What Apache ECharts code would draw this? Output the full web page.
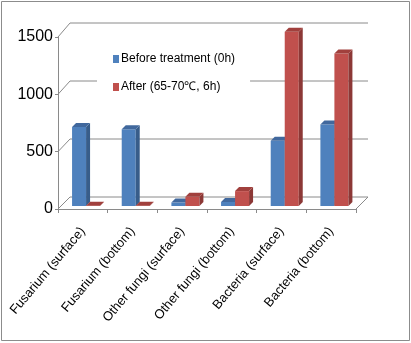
<!DOCTYPE html>
<html><head><meta charset="utf-8">
<script src="https://cdn.jsdelivr.net/npm/echarts@6/dist/echarts.min.js"></script>
<style>html,body{margin:0;padding:0;background:#fff}#c{width:411px;height:343px}</style>
</head><body><div id="c"></div>
<script>
var categories = ['Fusarium (surface)','Fusarium (bottom)','Other fungi (surface)','Other fungi (bottom)','Bacteria (surface)','Bacteria (bottom)'];
var beforeValues = [690, 670, 30, 35, 570, 710];
var afterValues = [3, 3, 80, 130, 1520, 1330];
var yTicks = [0, 500, 1000, 1500];
var seriesNames = ['Before treatment (0h)', 'After (65-70\u2103, 6h)'];

var FONT = 'Liberation Sans, Arial, sans-serif';
var GRID = '#8a8a8a';
var BACK = 12;   // back wall depth offset
var BARSHIFT = 3; // bar plane offset
var D = 4;        // bar depth

function barRender(offFrac, colors) {
  return function (params, api) {
    var i = api.value(0), v = api.value(1);
    var p0 = api.coord([i, 0]);
    var p1 = api.coord([i, v]);
    var band = api.size([1, 0])[0];
    var left = p0[0] + offFrac * band + BARSHIFT * 0.3;
    var w = band * 0.282;
    var top = p1[1] - BARSHIFT, bottom = p0[1] - BARSHIFT;
    return {
      type: 'group',
      children: [
        {type: 'rect', shape: {x: left, y: top, width: w, height: bottom - top}, style: {fill: colors[0]}},
        {type: 'polygon', shape: {points: [[left + w, top], [left + w + D, top - D], [left + w + D, bottom - D], [left + w, bottom]]}, style: {fill: colors[1]}},
        {type: 'polygon', shape: {points: [[left, top], [left + D, top - D], [left + w + D, top - D], [left + w, top]]}, style: {fill: colors[2]}}
      ]
    };
  };
}

function wallRender(params, api) {
  var v = api.value(0);
  var pL = api.coord([0, v]);
  var band = api.size([1, 0])[0];
  var xL = pL[0] - band / 2;
  var xR = xL + band * categories.length;
  var y = pL[1];
  var back = BACK + (v / 1500) * 2;
  var ch = [
    {type: 'line', shape: {x1: xL, y1: y, x2: xL + BACK, y2: y - back}, style: {stroke: GRID, lineWidth: 1}},
    {type: 'line', shape: {x1: xL + BACK, y1: y - back, x2: xR + BACK, y2: y - back}, style: {stroke: GRID, lineWidth: 1}}
  ];
  if (v === 0) {
    ch.push({type: 'line', shape: {x1: xR, y1: y, x2: xR + BACK, y2: y - back}, style: {stroke: GRID, lineWidth: 1}});
  }
  return {type: 'group', children: ch};
}

var chart = echarts.init(document.getElementById('c'), null, {renderer: 'canvas'});
chart.setOption({
  animation: false,
  backgroundColor: '#fff',
  textStyle: {fontFamily: FONT},
  grid: {left: 58, right: 55, top: 37, bottom: 134},
  legend: {
    orient: 'vertical', left: 97, top: 43,
    padding: [10, 15, 10, 16],
    backgroundColor: '#fff',
    itemWidth: 6, itemHeight: 8, itemGap: 16,
    icon: 'rect',
    textStyle: {fontSize: 12, color: '#000', fontFamily: FONT, padding: [0, 0, 0, -3]},
    data: seriesNames
  },
  xAxis: {
    type: 'category', data: categories,
    axisLine: {lineStyle: {color: GRID}},
    axisTick: {show: true, length: 4, lineStyle: {color: GRID}},
    axisLabel: {rotate: 50, fontSize: 13, color: '#000', margin: 20, interval: 0, fontFamily: FONT}
  },
  yAxis: {
    type: 'value', min: 0, max: 1500, interval: 500,
    axisLine: {show: true, lineStyle: {color: GRID}},
    axisTick: {show: true, length: 3, lineStyle: {color: GRID}},
    splitLine: {show: false},
    axisLabel: {fontSize: 16, color: '#000', margin: 5, fontFamily: FONT,
      padding: [0, 0, 5, 0],
      formatter: function (v) { return String(v); }}
  },
  graphic: [{
    type: 'rect', shape: {x: 1.5, y: 1.5, width: 408, height: 339},
    style: {fill: 'none', stroke: '#8c8c8c', lineWidth: 1}, z: 100
  }],
  series: [
    {type: 'custom', name: 'wall', silent: true, z: 1, coordinateSystem: 'cartesian2d',
     data: yTicks.map(function (t) { return [t]; }),
     encode: {y: 0}, renderItem: wallRender},
    {type: 'custom', name: seriesNames[0], z: 3, itemStyle: {color: '#4F81BD'},
     data: beforeValues.map(function (v, i) { return [i, v]; }),
     encode: {x: 0, y: 1},
     renderItem: barRender(-0.235, ['#4F81BD', '#385D8A', '#41689D'])},
    {type: 'custom', name: seriesNames[1], z: 3, itemStyle: {color: '#C0504D'},
     data: afterValues.map(function (v, i) { return [i, v]; }),
     encode: {x: 0, y: 1},
     renderItem: barRender(0.047, ['#C0504D', '#8C3836', '#A1403D'])}
  ]
});
</script></body></html>
